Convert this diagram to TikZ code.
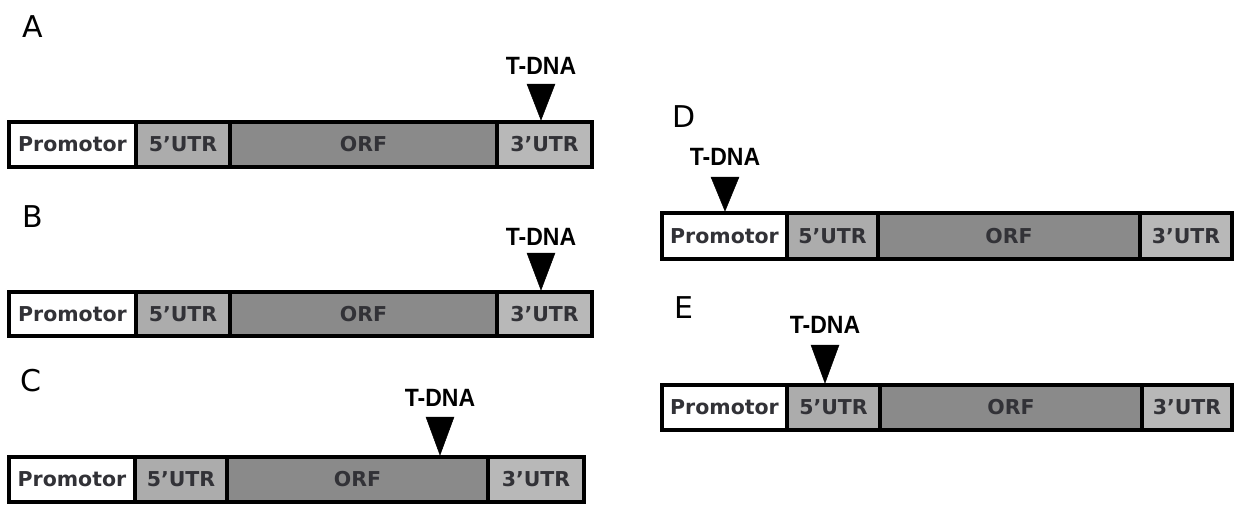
\documentclass[tikz,border=0pt]{standalone}
\usepackage{fontspec}
\setmainfont{DejaVu Sans}
\newfontfamily\tdnafont{Liberation Sans}
\usetikzlibrary{calc}
\definecolor{utrfive}{RGB}{172,172,172}
\definecolor{orfgray}{RGB}{138,138,138}
\definecolor{utrthree}{RGB}{184,184,184}
\definecolor{txtgray}{RGB}{50,50,55}
\tikzset{
  seg/.style={draw=black, line width=3.2pt, inner sep=0pt, outer sep=0pt, anchor=north west,
    font=\fontsize{20.5}{23}\selectfont\bfseries, text=txtgray},
  panel/.style={font=\fontsize{30}{32}\selectfont, text=black, inner sep=0pt},
  tdna/.style={font=\tdnafont\fontsize{25}{27}\selectfont\bfseries, inner sep=0pt},
  tri/.style={fill=black, draw=black, line width=0.5pt}
}
% \gene{prefix}{ytop}{ybot}{x0}{x1}{x2}{x3}{x4}
\newcommand\gene[8]{%
  \pgfmathsetmacro\gH{#3-#2}%
  \pgfmathsetmacro\gWa{#5-#4}\pgfmathsetmacro\gWb{#6-#5}%
  \pgfmathsetmacro\gWc{#7-#6}\pgfmathsetmacro\gWd{#8-#7}%
  \node[seg, fill=white, minimum width=\gWa pt, minimum height=\gH pt] (#1p) at (#4,#2) {Promotor};
  \node[seg, fill=utrfive, minimum width=\gWb pt, minimum height=\gH pt] (#1f) at (#5,#2) {5’UTR};
  \node[seg, fill=orfgray, minimum width=\gWc pt, minimum height=\gH pt] (#1o) at (#6,#2) {ORF};
  \node[seg, fill=utrthree, minimum width=\gWd pt, minimum height=\gH pt] (#1t) at (#7,#2) {3’UTR};
}
% \insertion{prefix}{x}{texty}{tritop}{apex}
\newcommand\insertion[5]{%
  \node[tdna] (#1lab) at (#2,#3) {\scalebox{0.92}[1]{T-DNA}};
  \coordinate (#1apex) at (#2,#5);
  \fill[tri] (#1apex) -- ($(#1apex)+(-14,#4-#5)$) -- ($(#1apex)+(14,#4-#5)$) -- cycle;
}
\begin{document}
\begin{tikzpicture}[x=1pt,y=-1pt]
\useasboundingbox (0,0) rectangle (1235,504);
\fill[white] (0,0) rectangle (1235,504);
% A
\node[panel] (la) at (33,27) {A};
\gene{a}{122}{167}{9}{136}{230}{497}{592}
\insertion{a}{541}{66}{84}{120}
% B
\node[panel] (lb) at (33,217) {B};
\gene{b}{292}{336}{9}{136}{230}{497}{592}
\insertion{b}{541}{237}{253}{290}
% C
\node[panel] (lc) at (31,381) {C};
\gene{c}{457}{502}{9}{135}{227}{488}{584}
\insertion{c}{440}{398}{417}{455}
% D
\node[panel] (ld) at (684,117) {D};
\gene{d}{213}{259}{662}{787}{878}{1140}{1232}
\insertion{d}{725}{157}{177}{211}
% E
\node[panel] (le) at (684,308) {E};
\gene{e}{385}{430}{662}{787}{880}{1142}{1232}
\insertion{e}{825}{325}{345}{383}
\end{tikzpicture}
\end{document}
